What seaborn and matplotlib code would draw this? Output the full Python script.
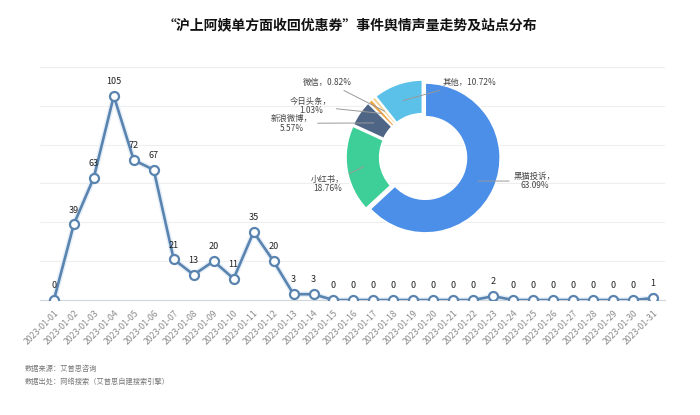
import numpy as np
import pandas as pd
import matplotlib
matplotlib.use('Agg')
import matplotlib.pyplot as plt
import seaborn as sns

# daily volume, Jan 2023
dates = [f'2023-01-{d:02d}' for d in range(1, 32)]
volume = [0, 39, 63, 105, 72, 67, 21, 13, 20, 11, 35, 20, 3, 3, 0, 0, 0, 0, 0, 0,
          0, 0, 2, 0, 0, 0, 0, 0, 0, 0, 1]

# site distribution
sites = ['黑猫投诉', '小红书', '新浪微博', '今日头条', '微信', '其他']
shares = [63.09, 18.76, 5.57, 1.03, 0.82, 10.72]
site_colors = ['#4b8fe8', '#3ecf98', '#4e6585', '#f0a545', '#f3d391', '#5cc1e9']

title = '“沪上阿姨单方面收回优惠券”事件舆情声量走势及站点分布'
notes = ['数据来源：艾普思咨询', '数据出处：网络搜索（艾普思自建搜索引擎）']

sns.set_theme(style='white')
plt.rcParams['font.family'] = ['Noto Sans CJK SC', 'DejaVu Sans']

df = pd.DataFrame({'idx': np.arange(len(dates)), 'date': dates, 'volume': volume})

fig = plt.figure(figsize=(7, 4.15), dpi=100)
fig.text(0.5, 0.94, title, ha='center', va='center', fontsize=10, fontweight='bold', color='#111111')

# line chart
ax = fig.add_axes([0.057, 0.277, 0.893, 0.562])
line_color = '#5a84b0'
ax.plot(df['idx'], df['volume'], color='#e6eff8', lw=4, zorder=1)
sns.lineplot(data=df, x='idx', y='volume', ax=ax, color=line_color, lw=1.9,
             marker='o', markersize=6.5, markerfacecolor='white',
             markeredgecolor=line_color, markeredgewidth=1.6, zorder=3)
for i, v in zip(df['idx'], df['volume']):
    ax.annotate(str(v), (i, v), xytext=(0, 7), textcoords='offset points',
                ha='center', va='bottom', fontsize=6.5, color='#222222')
ax.set_xlim(-0.7, 30.6)
ax.set_ylim(0, 120)
ax.set_yticks(np.arange(0, 121, 20))
ax.yaxis.grid(True, color='#eeeeee', lw=0.8)
ax.set_yticklabels([])
ax.set_xticks(df['idx'])
ax.set_xticklabels(dates, rotation=45, ha='right', rotation_mode='anchor',
                   fontsize=6.3, color='#8a8a8a')
ax.tick_params(axis='x', length=0, pad=6)
ax.tick_params(axis='y', length=0)
ax.set_xlabel('')
ax.set_ylabel('')
for s in ['top', 'right', 'left']:
    ax.spines[s].set_visible(False)
ax.spines['bottom'].set_color('#cfd6de')
ax.spines['bottom'].set_linewidth(0.8)

# donut
pax = fig.add_axes([0.433, 0.3325, 0.343, 0.578])
wedges, _ = pax.pie(shares, colors=site_colors, startangle=90, counterclock=False,
                    radius=1.0, explode=[0.03] * len(shares),
                    wedgeprops=dict(width=0.45, edgecolor='white', linewidth=1.2))
pax.set_xlim(-1.6, 1.6)
pax.set_ylim(-1.6, 1.6)
pax.set_aspect('equal')

label_pos = {
    '黑猫投诉': (1.21, -0.32, 'left'),
    '小红书': (-1.05, -0.36, 'right'),
    '新浪微博': (-1.47, 0.45, 'right'),
    '今日头条': (-1.22, 0.68, 'right'),
    '微信': (-0.95, 1.0, 'right'),
    '其他': (0.26, 1.0, 'left'),
}
for w, name, pct in zip(wedges, sites, shares):
    ang = np.deg2rad((w.theta1 + w.theta2) / 2)
    r = 0.8
    xy = (r * np.cos(ang), r * np.sin(ang))
    tx, ty, ha = label_pos[name]
    if name in ('微信', '其他'):
        txt = f'{name}，{pct:.2f}%'
    else:
        txt = f'{name}，\n{pct:.2f}%'
    pax.annotate(txt, xy=xy, xytext=(tx, ty), ha=ha, va='center',
                 multialignment='center', fontsize=6, color='#444444',
                 linespacing=1.1,
                 arrowprops=dict(arrowstyle='-', color='#999999', lw=0.7,
                                 shrinkA=1, shrinkB=0))

fig.text(0.036, 0.111, notes[0], fontsize=5.2, color='#777777', va='center')
fig.text(0.036, 0.080, notes[1], fontsize=5.2, color='#777777', va='center')

fig.savefig('out.png', dpi=100)
